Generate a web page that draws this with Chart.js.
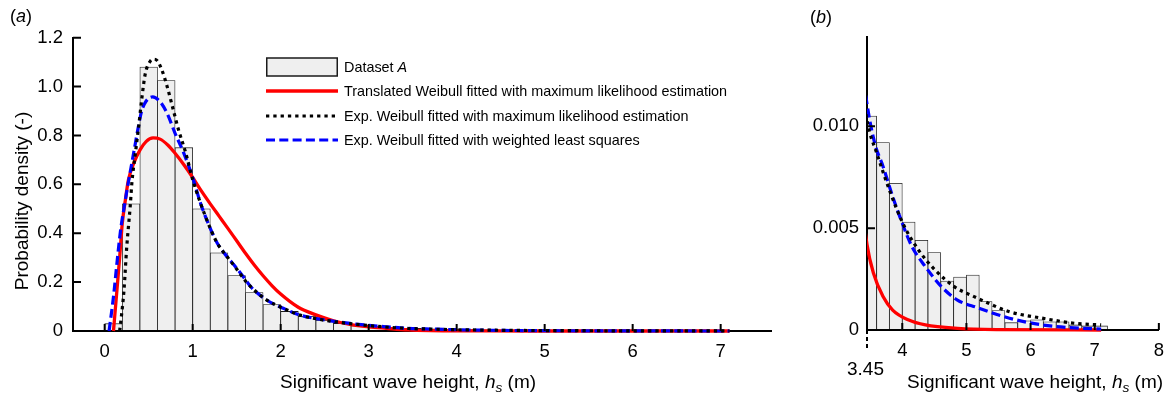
<!DOCTYPE html>
<html lang="en">
<head>
<meta charset="UTF-8">
<title>Significant wave height density</title>
<script src="https://cdn.jsdelivr.net/npm/chart.js"></script>
<style>
  body { margin: 0; background: #fff; color: #000; font-family: 'Liberation Sans', Arial, sans-serif; }
  #wrap { position: relative; width: 1174px; height: 399px; overflow: hidden; }
  #boxA { position: absolute; left: 0; top: 0; width: 790px; height: 399px; }
  #boxB { position: absolute; left: 790px; top: 0; width: 384px; height: 399px; }
  .txt { position: absolute; white-space: nowrap; line-height: 1; font-size: 19px; }
  .panel { font-size: 18px; }
  .sub { font-size: 0.72em; position: relative; top: 0.28em; font-style: italic; }
  #ytitle { left: 20.5px; top: 200.5px; transform: translate(-50%, -50%) rotate(-90deg); }
  #legend { position: absolute; left: 266px; top: 55px; font-size: 14.4px; }
  #legend .row { display: flex; align-items: center; height: 24.3px; }
  #legend canvas { margin-right: 6px; }
</style>
</head>
<body>
<div id="wrap">
  <div id="boxA"><canvas id="panelA" width="790" height="399"></canvas></div>
  <div id="boxB"><canvas id="panelB" width="384" height="399"></canvas></div>

  <div class="txt panel" style="left:10px; top:7px;">(<i>a</i>)</div>
  <div class="txt panel" style="left:810px; top:8px;">(<i>b</i>)</div>
  <div class="txt" id="ytitle">Probability density (-)</div>
  <div class="txt" style="left:280px; top:372px;">Significant wave height, <i>h</i><span class="sub">s</span> (m)</div>
  <div class="txt" style="left:907px; top:372px;">Significant wave height, <i>h</i><span class="sub">s</span> (m)</div>
  <div class="txt" style="left:847px; top:359px;">3.45</div>

  <div id="legend">
    <div class="row"><canvas width="72" height="24"></canvas><span>Dataset <i>A</i></span></div>
    <div class="row"><canvas width="72" height="24"></canvas><span>Translated Weibull fitted with maximum likelihood estimation</span></div>
    <div class="row"><canvas width="72" height="24"></canvas><span>Exp. Weibull fitted with maximum likelihood estimation</span></div>
    <div class="row"><canvas width="72" height="24"></canvas><span>Exp. Weibull fitted with weighted least squares</span></div>
  </div>
</div>

<script>
// histogram of dataset A, 0.2 m bins (bin centres)
const binCentres = [0.1, 0.3, 0.5, 0.7, 0.9, 1.1, 1.3, 1.5, 1.7, 1.9, 2.1, 2.3, 2.5, 2.7, 2.9, 3.1, 3.3, 3.5,
                    3.7, 3.9, 4.1, 4.3, 4.5, 4.7, 4.9, 5.1, 5.3, 5.5, 5.7, 5.9, 6.1, 6.3, 6.5, 6.7, 6.9, 7.1];
const density = [0.03, 0.52, 1.08, 1.025, 0.75, 0.50, 0.32, 0.227, 0.157, 0.108, 0.08, 0.06, 0.044, 0.031, 0.021, 0.017, 0.013, 0.0105,
                 0.0092, 0.0072, 0.0053, 0.0044, 0.0038, 0.0024, 0.0026, 0.0027, 0.0014, 0.00095, 0.00036, 0.00045, 0.0005, 0.0004, 0.0004, 0.00025, 0.0002, 0.0002];

// translated Weibull, maximum likelihood
const twX = [0.10, 0.14, 0.17, 0.20, 0.235, 0.27, 0.33, 0.40, 0.47, 0.55, 0.63, 0.72, 0.80, 0.90, 1.00, 1.10, 1.20, 1.30, 1.40, 1.50,
             1.60, 1.70, 1.80, 1.90, 2.00, 2.20, 2.40, 2.60, 2.80, 3.00, 3.20, 3.45, 3.55, 3.70, 3.85, 4.10, 4.36, 4.86, 5.50, 7.10];
const twY = [0, 0.17, 0.30, 0.44, 0.536, 0.618, 0.686, 0.74, 0.775, 0.79, 0.785, 0.76, 0.727, 0.68, 0.628, 0.572, 0.52, 0.47, 0.42, 0.369,
             0.318, 0.27, 0.226, 0.186, 0.151, 0.097, 0.066, 0.042, 0.026, 0.017, 0.011, 0.0042, 0.0028, 0.00164, 0.00098, 0.00049, 0.00025, 0.00008, 0.00002, 0];

// exponentiated Weibull, maximum likelihood
const ewmX = [0.17, 0.19, 0.22, 0.25, 0.29, 0.31, 0.35, 0.386, 0.42, 0.46, 0.52, 0.56, 0.60, 0.65, 0.71, 0.78, 0.84, 0.92, 1.00, 1.09,
              1.20, 1.28, 1.40, 1.47, 1.60, 1.66, 1.84, 2.03, 2.22, 2.45, 2.79, 3.17, 3.45, 3.60, 4.00, 4.26, 4.51, 4.81, 5.12, 5.67, 6.18, 6.69, 7.10];
const ewmY = [0, 0.06, 0.17, 0.34, 0.51, 0.61, 0.73, 0.836, 0.945, 1.05, 1.105, 1.112, 1.105, 1.068, 1.0, 0.904, 0.822, 0.73, 0.62, 0.522,
              0.42, 0.359, 0.30, 0.268, 0.205, 0.181, 0.127, 0.093, 0.065, 0.047, 0.03, 0.017, 0.0103, 0.0087, 0.0053, 0.0039, 0.00295, 0.00213, 0.00164, 0.0009, 0.00058, 0.00033, 0.00025];

// exponentiated Weibull, weighted least squares
const ewlX = [0.05, 0.10, 0.14, 0.18, 0.235, 0.27, 0.30, 0.34, 0.38, 0.42, 0.47, 0.545, 0.63, 0.71, 0.80, 0.90, 1.00, 1.09, 1.20, 1.28,
              1.40, 1.47, 1.60, 1.66, 1.84, 2.03, 2.22, 2.45, 2.79, 3.17, 3.45, 3.57, 3.70, 3.85, 4.00, 4.15, 4.36, 4.61, 4.86, 5.17, 5.67, 6.18, 6.69, 7.10];
const ewlY = [0, 0.14, 0.28, 0.41, 0.536, 0.61, 0.67, 0.75, 0.83, 0.90, 0.94, 0.958, 0.938, 0.89, 0.809, 0.727, 0.628, 0.522, 0.42, 0.359,
              0.30, 0.27, 0.21, 0.181, 0.127, 0.093, 0.065, 0.048, 0.031, 0.018, 0.0111, 0.00918, 0.00803, 0.00655, 0.00524, 0.0041, 0.00311, 0.00213, 0.00147, 0.0011, 0.00058, 0.00025, 0.0001, 0.00005];

// axis ticks
const xTicksA = [0, 1, 2, 3, 4, 5, 6, 7];
const yTicksA = [0, 0.2, 0.4, 0.6, 0.8, 1.0, 1.2];
const yLabelsA = ['0', '0.2', '0.4', '0.6', '0.8', '1.0', '1.2'];
const xTicksB = [4, 5, 6, 7, 8];
const yTicksB = [0, 0.005, 0.010];
const yLabelsB = ['0', '0.005', '0.010'];
const thresholdB = 3.45;

Chart.defaults.font.family = "'Liberation Sans', Arial, sans-serif";
Chart.defaults.color = '#000';

const pts = (xs, ys) => xs.map((x, i) => ({ x: x, y: ys[i] }));

function makeDatasets(barClip, lineClip) {
  const line = (label, xs, ys, color, width, dash, order) => ({
    type: 'line', label: label, data: pts(xs, ys), borderColor: color, borderWidth: width,
    borderDash: dash, borderCapStyle: 'butt', pointRadius: 0, fill: false,
    cubicInterpolationMode: 'monotone', order: order, clip: lineClip
  });
  return [
    {
      type: 'bar', label: 'Dataset A', data: pts(binCentres, density),
      backgroundColor: '#efefef', borderColor: '#1a1a1a', borderWidth: 0.8,
      barPercentage: 1, categoryPercentage: 1, order: 4, clip: barClip
    },
    line('Translated Weibull fitted with maximum likelihood estimation', twX, twY, '#ff0000', 3.3, [], 3),
    line('Exp. Weibull fitted with maximum likelihood estimation', ewmX, ewmY, '#000000', 3.2, [3.3, 4], 1),
    line('Exp. Weibull fitted with weighted least squares', ewlX, ewlY, '#0000ff', 3.2, [9, 4.3], 2)
  ];
}

// axis lines again on top of the bars, then inward tick marks
const axisOverlay = {
  id: 'axisOverlay',
  afterDatasetDraw(chart, args) {
    if (args.meta.type !== 'bar') return;
    const { ctx, chartArea: a } = chart;
    ctx.save();
    ctx.strokeStyle = '#000';
    ctx.lineWidth = 2;
    ctx.beginPath();
    ctx.moveTo(a.left, a.top);
    ctx.lineTo(a.left, a.bottom);
    ctx.lineTo(a.right, a.bottom);
    ctx.stroke();
    ctx.restore();
  },
  afterDatasetsDraw(chart, args, opts) {
    const { ctx, chartArea: a, scales: { x, y } } = chart;
    ctx.save();
    ctx.strokeStyle = '#000';
    ctx.lineWidth = 2;
    ctx.beginPath();
    x.ticks.forEach(t => {
      const px = x.getPixelForValue(t.value);
      ctx.moveTo(px, a.bottom);
      ctx.lineTo(px, a.bottom - 7);
    });
    y.ticks.forEach(t => {
      if (t.value === 0) return;
      const py = y.getPixelForValue(t.value);
      ctx.moveTo(a.left, py);
      ctx.lineTo(a.left + 8, py);
    });
    ctx.stroke();
    if (opts.marker !== undefined) {
      // dashed drop line under the lower bound of panel b
      const px = x.getPixelForValue(opts.marker);
      ctx.setLineDash([4, 3]);
      ctx.beginPath();
      ctx.moveTo(px, a.bottom);
      ctx.lineTo(px, a.bottom + 18);
      ctx.stroke();
    }
    ctx.restore();
  }
};

function scalePair(xMin, xMax, xTicks, yMax, yTicks, yLabels, yWidth, xHeight, yPad) {
  const tickFont = { size: 18.5 };
  return {
    x: {
      type: 'linear', min: xMin, max: xMax, offset: false,
      grid: { display: false, drawTicks: false },
      border: { display: true, color: '#000', width: 2 },
      ticks: { font: tickFont, padding: 10, maxRotation: 0, callback: v => String(v) },
      afterBuildTicks: s => { s.ticks = xTicks.map(v => ({ value: v })); },
      afterFit: s => { s.height = xHeight; }
    },
    y: {
      type: 'linear', min: 0, max: yMax,
      grid: { display: false, drawTicks: false },
      border: { display: true, color: '#000', width: 2 },
      ticks: { font: tickFont, padding: yPad, callback: (v, i) => yLabels[i] },
      afterBuildTicks: s => { s.ticks = yTicks.map(v => ({ value: v })); },
      afterFit: s => { s.width = yWidth; }
    }
  };
}

const panelA = new Chart(document.getElementById('panelA'), {
  type: 'bar',
  data: { datasets: makeDatasets(false, false) },
  options: {
    responsive: false, animation: false, events: [],
    layout: { padding: { top: 37.7, right: 18.3, left: 0, bottom: 0 } },
    plugins: { legend: { display: false }, tooltip: { enabled: false }, axisOverlay: {} },
    scales: scalePair(-0.36, 7.58, xTicksA, 1.2, yTicksA, yLabelsA, 73, 68, 10)
  },
  plugins: [axisOverlay]
});

new Chart(document.getElementById('panelB'), {
  type: 'bar',
  data: { datasets: makeDatasets({ left: 0, top: false, right: false, bottom: false },
                                 { left: 0, top: 0, right: false, bottom: 4 }) },
  options: {
    responsive: false, animation: false, events: [],
    layout: { padding: { top: 36.7, right: 7.3, left: 0, bottom: 0 } },
    plugins: { legend: { display: false }, tooltip: { enabled: false }, axisOverlay: { marker: thresholdB } },
    scales: scalePair(thresholdB, 8, xTicksB, 0.0144, yTicksB, yLabelsB, 77, 69, 8)
  },
  plugins: [axisOverlay]
});

// legend swatches drawn with the dataset styles of panel a
const swatches = document.querySelectorAll('#legend canvas');
panelA.data.datasets.forEach((ds, i) => {
  const c = swatches[i].getContext('2d');
  if (ds.type === 'line') {
    c.strokeStyle = ds.borderColor;
    c.lineWidth = ds.borderWidth;
    c.setLineDash(ds.borderDash);
    c.beginPath();
    c.moveTo(0, 12);
    c.lineTo(72, 12);
    c.stroke();
  } else {
    c.fillStyle = ds.backgroundColor;
    c.fillRect(0.75, 3, 70.5, 18);
    c.strokeStyle = ds.borderColor;
    c.lineWidth = 1.5;
    c.strokeRect(0.75, 3, 70.5, 18);
  }
});
</script>
</body>
</html>
